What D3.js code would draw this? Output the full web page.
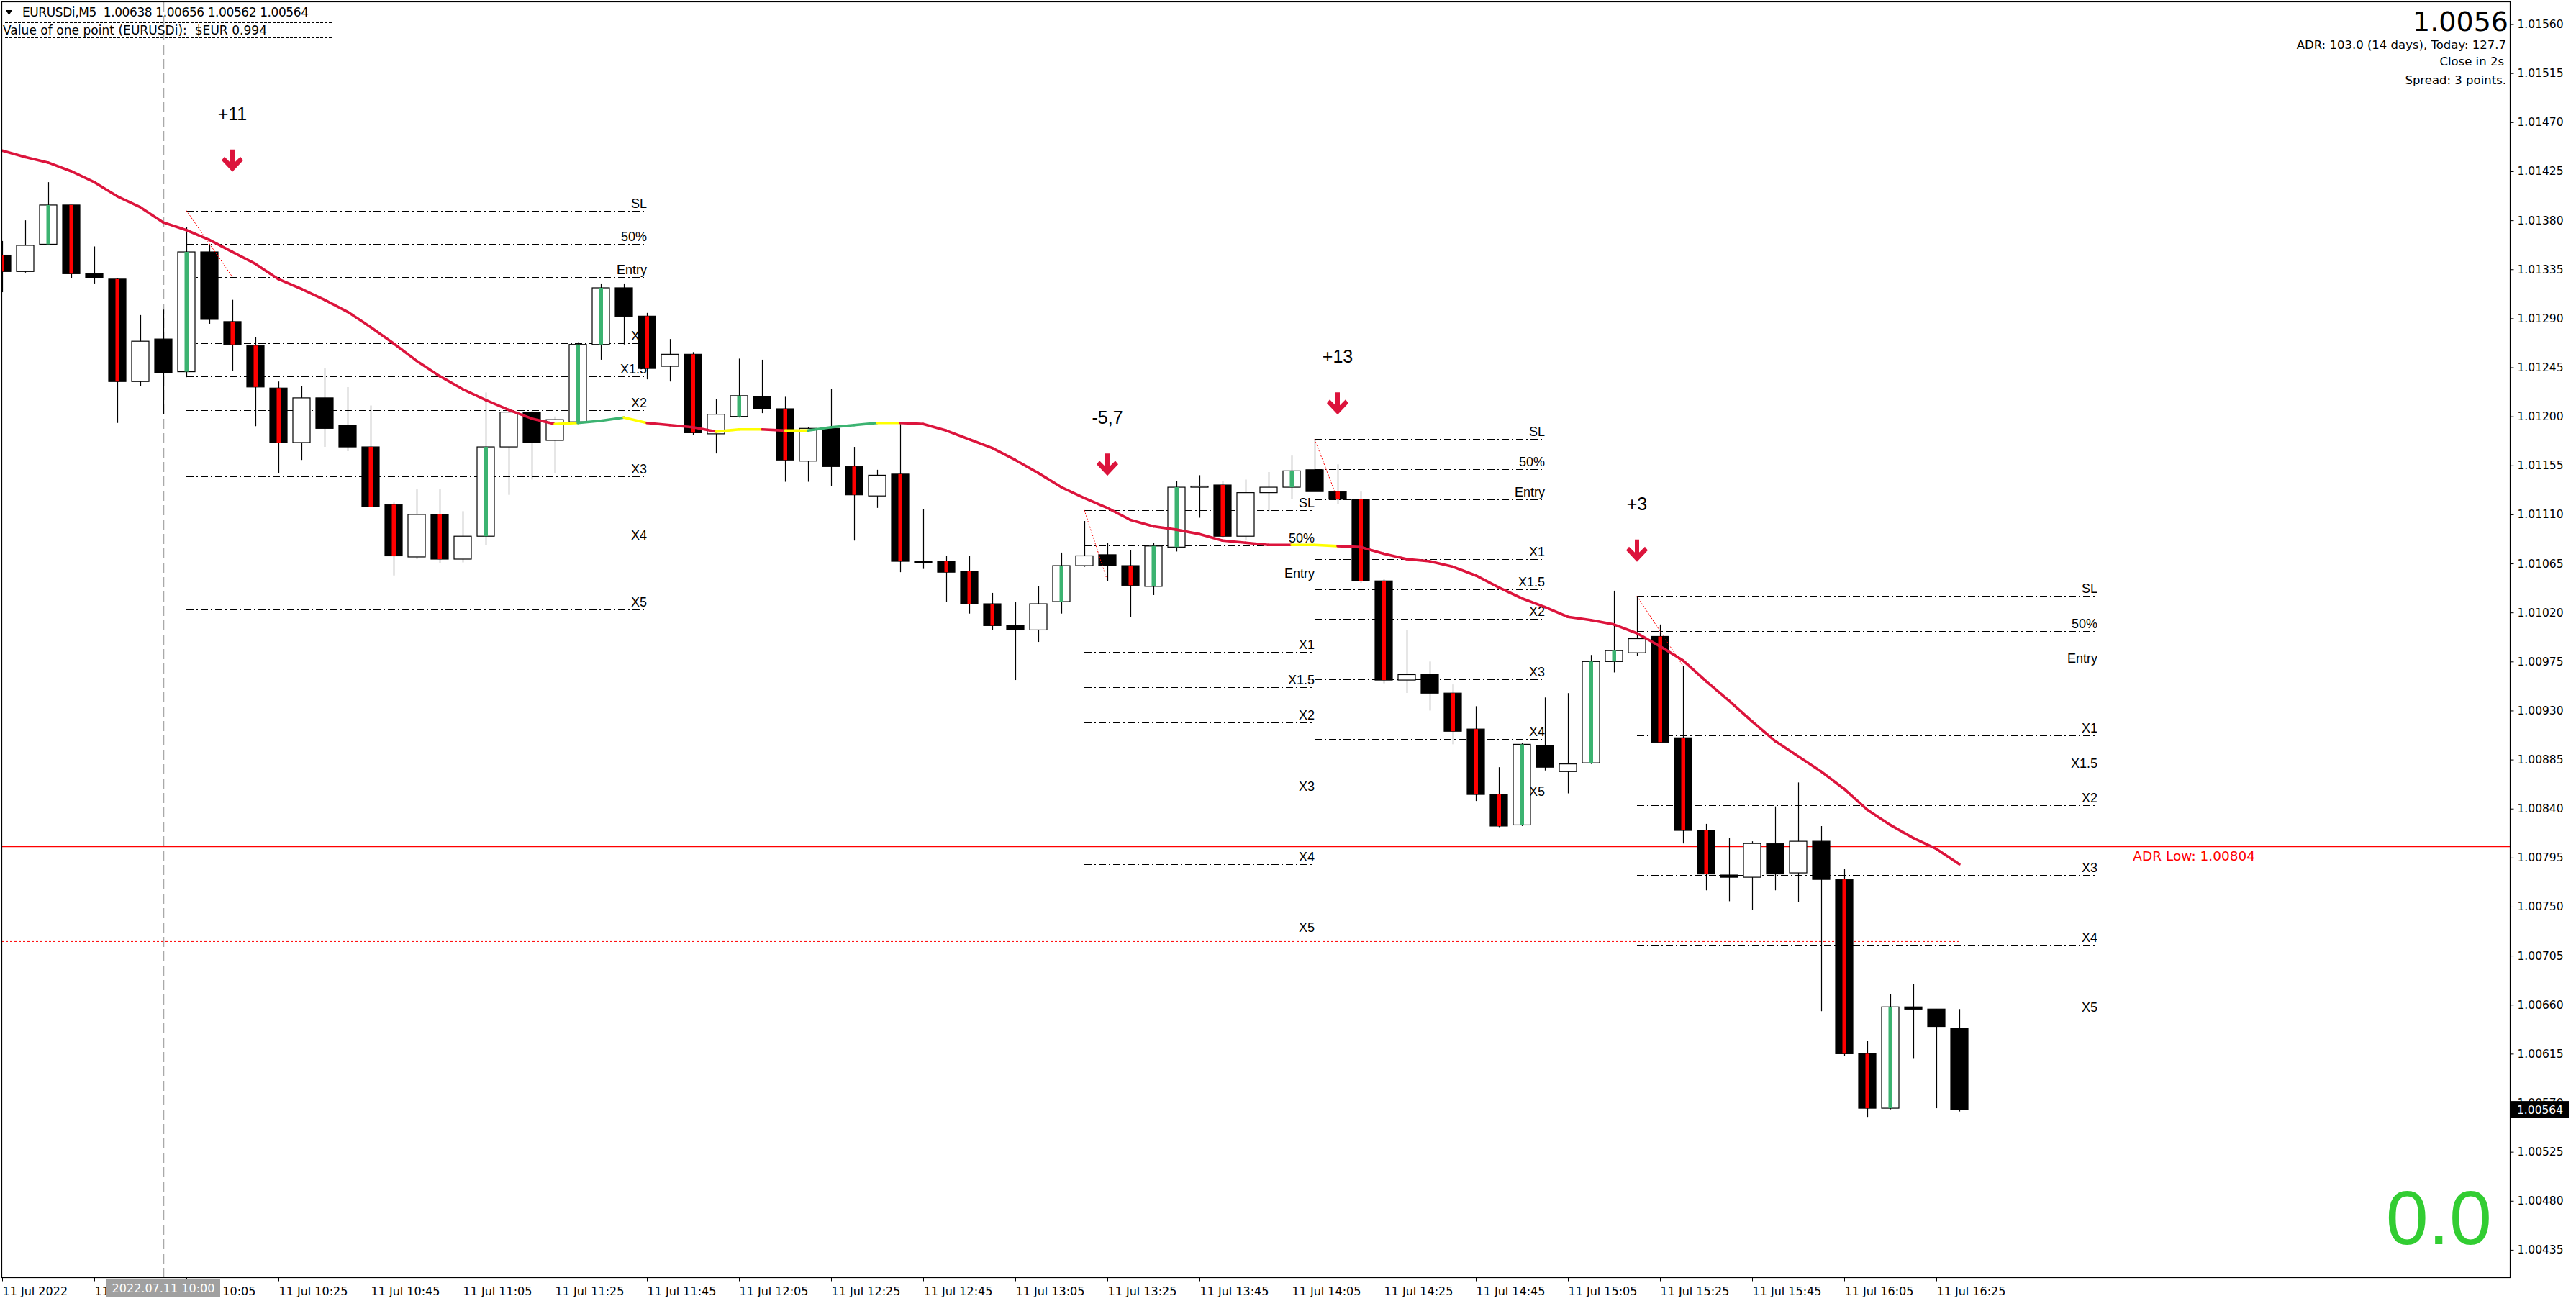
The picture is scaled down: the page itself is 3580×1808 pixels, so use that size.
<!DOCTYPE html>
<html>
<head>
<meta charset="utf-8">
<script src="https://cdn.jsdelivr.net/npm/d3@7"></script>
<style>
  body { margin: 0; background: #fff; }
  svg { display: block; }
  text { white-space: pre; }
</style>
</head>
<body>
<svg id="chart"></svg>
<script>
// EURUSDi M5, 11 Jul 2022 09:25 - 16:30

const W = 3580, H = 1808;
const plotL = 2, plotT = 2, plotR = 3488, plotB = 1775;

const times = ["09:25","09:30","09:35","09:40","09:45","09:50","09:55","10:00","10:05","10:10",
  "10:15","10:20","10:25","10:30","10:35","10:40","10:45","10:50","10:55","11:00",
  "11:05","11:10","11:15","11:20","11:25","11:30","11:35","11:40","11:45","11:50",
  "11:55","12:00","12:05","12:10","12:15","12:20","12:25","12:30","12:35","12:40",
  "12:45","12:50","12:55","13:00","13:05","13:10","13:15","13:20","13:25","13:30",
  "13:35","13:40","13:45","13:50","13:55","14:00","14:05","14:10","14:15","14:20",
  "14:25","14:30","14:35","14:40","14:45","14:50","14:55","15:00","15:05","15:10",
  "15:15","15:20","15:25","15:30","15:35","15:40","15:45","15:50","15:55","16:00",
  "16:05","16:10","16:15","16:20","16:25","16:30"];

const open = [1.01348,1.01333,1.01358,1.01394,1.01331,1.01326,1.01232,1.01271,1.01241,1.01351,
  1.01287,1.01265,1.01226,1.01176,1.01217,1.01192,1.01172,1.01119,1.01071,1.01110,
  1.01069,1.01090,1.01172,1.01204,1.01178,1.01195,1.01266,1.01318,1.01292,1.01246,
  1.01257,1.01184,1.01200,1.01218,1.01207,1.01159,1.01189,1.01154,1.01127,1.01147,
  1.01067,1.01067,1.01058,1.01028,1.01008,1.01004,1.01030,1.01063,1.01073,1.01063,
  1.01044,1.01080,1.01135,1.01137,1.01090,1.01130,1.01135,1.01151,1.01131,1.01124,
  1.01049,1.00958,1.00963,1.00946,1.00913,1.00853,1.00825,1.00898,1.00874,1.00882,
  1.00975,1.00983,1.00998,1.00905,1.00820,1.00779,1.00777,1.00808,1.00781,1.00810,
  1.00775,1.00615,1.00565,1.00658,1.00656,1.00638];

const high = [1.01361,1.01380,1.01415,1.01394,1.01356,1.01327,1.01293,1.01298,1.01374,1.01357,
  1.01307,1.01273,1.01232,1.01228,1.01244,1.01227,1.01210,1.01121,1.01133,1.01133,
  1.01113,1.01222,1.01208,1.01205,1.01200,1.01268,1.01322,1.01322,1.01295,1.01271,
  1.01259,1.01216,1.01253,1.01252,1.01218,1.01190,1.01225,1.01172,1.01151,1.01195,
  1.01115,1.01072,1.01072,1.01038,1.01030,1.01044,1.01075,1.01104,1.01084,1.01077,
  1.01084,1.01141,1.01146,1.01141,1.01142,1.01149,1.01164,1.01179,1.01156,1.01131,
  1.01051,1.01004,1.00975,1.00954,1.00934,1.00878,1.00900,1.00942,1.00946,1.00981,
  1.01040,1.01035,1.01009,1.00971,1.00826,1.00813,1.00810,1.00842,1.00864,1.00824,
  1.00785,1.00627,1.00670,1.00679,1.00656,1.00656];

const low = [1.01314,1.01332,1.01357,1.01327,1.01322,1.01194,1.01228,1.01202,1.01236,1.01285,
  1.01242,1.01191,1.01148,1.01160,1.01172,1.01168,1.01117,1.01054,1.01069,1.01065,
  1.01066,1.01082,1.01128,1.01142,1.01148,1.01193,1.01252,1.01266,1.01234,1.01232,
  1.01183,1.01166,1.01199,1.01203,1.01140,1.01140,1.01136,1.01086,1.01116,1.01057,
  1.01060,1.01030,1.01019,1.01004,1.00958,1.00993,1.01019,1.01062,1.01049,1.01016,
  1.01036,1.01076,1.01107,1.01089,1.01086,1.01113,1.01124,1.01131,1.01119,1.01047,
  1.00955,1.00946,1.00930,1.00899,1.00847,1.00823,1.00824,1.00875,1.00854,1.00881,
  1.00965,1.00980,1.00901,1.00808,1.00765,1.00755,1.00747,1.00765,1.00754,1.00654,
  1.00613,1.00557,1.00564,1.00611,1.00565,1.00562];

const close = [1.01333,1.01357,1.01394,1.01331,1.01327,1.01232,1.01269,1.01240,1.01351,1.01289,
  1.01266,1.01227,1.01176,1.01217,1.01189,1.01172,1.01117,1.01072,1.01110,1.01069,
  1.01090,1.01172,1.01204,1.01176,1.01197,1.01266,1.01318,1.01292,1.01244,1.01257,
  1.01185,1.01202,1.01219,1.01207,1.01160,1.01189,1.01154,1.01128,1.01146,1.01067,
  1.01066,1.01057,1.01028,1.01008,1.01004,1.01028,1.01063,1.01072,1.01063,1.01045,
  1.01081,1.01135,1.01136,1.01090,1.01130,1.01135,1.01150,1.01131,1.01124,1.01049,
  1.00958,1.00963,1.00946,1.00911,1.00853,1.00824,1.00899,1.00878,1.00881,1.00975,
  1.00985,1.00996,1.00901,1.00820,1.00780,1.00777,1.00808,1.00780,1.00810,1.00775,
  1.00615,1.00565,1.00658,1.00656,1.00640,1.00564];

// bar highlight from the momentum indicator: r = red, g = green, - = none
const barMark = ("r-gr-r--g-rrr---rr-r" + "-g---gg-r-r-g-r--r-r" +
  "-rrr--g--rgg-r--g-rr" + "r--rrrg--gg-rrr-----" + "rrg---").split("");

// moving average and its colour state (segment ending at that bar)
const ma = [1.01444,1.01438,1.01433,1.01425,1.01415,1.01402,1.01392,1.01378,1.01371,1.01362,
  1.01351,1.01340,1.01326,1.01317,1.01307,1.01296,1.01282,1.01267,1.01251,1.01237,
  1.01225,1.01215,1.01206,1.01198,1.01193,1.01194,1.01196,1.01199,1.01194,1.01192,
  1.01190,1.01186,1.01188,1.01188,1.01187,1.01187,1.01190,1.01192,1.01194,1.01194,
  1.01193,1.01187,1.01179,1.01171,1.01160,1.01148,1.01135,1.01125,1.01116,1.01105,
  1.01099,1.01096,1.01092,1.01086,1.01084,1.01082,1.01082,1.01082,1.01081,1.01080,
  1.01074,1.01069,1.01067,1.01062,1.01054,1.01043,1.01033,1.01025,1.01016,1.01013,
  1.01009,1.01001,1.00989,1.00976,1.00957,1.00939,1.00920,1.00902,1.00888,1.00874,
  1.00858,1.00839,1.00825,1.00813,1.00803,1.00789];
const maState = ("rrrrrrrrrrrrrrrrrrrrrrrrr" + "y" + "gg" + "y" + "rrr" + "yy" + "r" + "y" +
  "ggg" + "y" + "rrrrrrrrrrrrrrrrr" + "yy" + "rrrrrrrrrrrrrrrrrrrrrrrrrrr").split("");

// trade setups
const setupStart  = ["10:05", "13:20", "14:10", "15:20"];
const setupBars   = [20, 10, 10, 20];
const setupSignal = ["10:15", "13:25", "14:15", "15:20"];
const setupFill   = ["10:15", "13:25", "14:15", "15:30"];
const setupSL     = [1.01389, 1.01114, 1.01179, 1.01035];
const setupEntry  = [1.01328, 1.01049, 1.01124, 1.00971];
const setupArrow  = [1.01445, 1.01166, 1.01222, 1.01087];
const setupResult = ["+11", "-5,7", "+13", "+3"];
const levelNames  = ["SL", "50%", "Entry", "X1", "X1.5", "X2", "X3", "X4", "X5"];
const levelMult   = [-1, -0.5, 0, 1, 1.5, 2, 3, 4, 5];

const adrLow = 1.00804;
const adrProj = 1.00718;
const lastPrice = 1.00564;

const priceTicks = [1.00435,1.00480,1.00525,1.00570,1.00615,1.00660,1.00705,1.00750,1.00795,
  1.00840,1.00885,1.00930,1.00975,1.01020,1.01065,1.01110,1.01155,1.01200,1.01245,1.01290,
  1.01335,1.01380,1.01425,1.01470,1.01515,1.01560];
const timeLabelBars = ["09:25","09:45","10:05","10:25","10:45","11:05","11:25","11:45","12:05",
  "12:25","12:45","13:05","13:25","13:45","14:05","14:25","14:45","15:05","15:25","15:45",
  "16:05","16:25"];

const markColor = { r: "#ff0000", g: "#3cb371" };
const maColor = { r: "#dc143c", y: "#ffff00", g: "#3cb371" };
const sansV = "'DejaVu Sans', Verdana, sans-serif";
const sansT = "'Liberation Sans', Arial, sans-serif";

const svg = d3.select('#chart').attr('width', W).attr('height', H);
svg.append('rect').attr('width', W).attr('height', H).attr('fill', '#fff');

const x = d3.scaleLinear().domain([0, times.length - 1]).range([3, 3 + (times.length - 1) * 32]);
const y = d3.scaleLinear().domain([1.01560, 1.00435]).range([33.6, 1736.9]);
const bi = t => times.indexOf(t);

svg.append('defs').append('clipPath').attr('id', 'plot')
  .append('rect').attr('x', plotL).attr('y', plotT)
  .attr('width', plotR - plotL).attr('height', plotB - plotT);
const g = svg.append('g').attr('clip-path', 'url(#plot)');

//period separator at 10:00
g.append('line')
  .attr('x1', x(bi("10:00")) + 0.5).attr('x2', x(bi("10:00")) + 0.5)
  .attr('y1', plotT).attr('y2', plotB)
  .attr('stroke', '#a9a9a9').attr('stroke-width', 1.5).attr('stroke-dasharray', '14,6');

//setup levels
setupStart.forEach((s, k) => {
  const i0 = bi(s), i1 = i0 + setupBars[k];
  const risk = setupSL[k] - setupEntry[k];
  const lv = levelMult.map((m, j) => ({ name: levelNames[j], p: setupEntry[k] - m * risk }));
  const grp = g.append('g');
  grp.selectAll('line').data(lv).enter().append('line')
    .attr('x1', x(i0)).attr('x2', x(i1))
    .attr('y1', d => Math.round(y(d.p)) + 0.5).attr('y2', d => Math.round(y(d.p)) + 0.5)
    .attr('stroke', '#000').attr('stroke-width', 1).attr('stroke-dasharray', '10,4,2,4');
  grp.selectAll('text').data(lv).enter().append('text')
    .attr('x', x(i1)).attr('y', d => y(d.p) - 4)
    .attr('text-anchor', 'end').attr('font-family', sansT).attr('font-size', 18)
    .attr('fill', '#000').text(d => d.name);
});

//ADR lines
g.append('line').attr('x1', plotL).attr('x2', plotR)
  .attr('y1', y(adrLow) - 2).attr('y2', y(adrLow) - 2)
  .attr('stroke', '#ff0000').attr('stroke-width', 2);
g.append('line').attr('x1', plotL).attr('x2', x(times.length - 1))
  .attr('y1', y(adrProj)).attr('y2', y(adrProj))
  .attr('stroke', '#ff0000').attr('stroke-width', 1).attr('stroke-dasharray', '3,3');
g.append('text').attr('x', 3134).attr('y', y(adrLow) + 18)
  .attr('text-anchor', 'end').attr('font-family', sansV).attr('font-size', 18.5)
  .attr('fill', '#ff0000').text('ADR Low: ' + adrLow.toFixed(5));

//candles
const bars = times.map((t, i) => ({ i, o: open[i], h: high[i], l: low[i], c: close[i], m: barMark[i] }));
const cg = g.append('g');
cg.selectAll('.wick').data(bars).enter().append('line').attr('class', 'wick')
  .attr('x1', d => x(d.i) + 0.5).attr('x2', d => x(d.i) + 0.5)
  .attr('y1', d => y(d.h)).attr('y2', d => y(d.l))
  .attr('stroke', '#000').attr('stroke-width', 1.2);
cg.selectAll('.body').data(bars).enter().append('rect').attr('class', 'body')
  .attr('x', d => x(d.i) - 12).attr('width', 24)
  .attr('y', d => y(Math.max(d.o, d.c)))
  .attr('height', d => Math.max(1, Math.abs(y(d.o) - y(d.c))))
  .attr('fill', d => d.c >= d.o ? '#fff' : '#000')
  .attr('stroke', '#000').attr('stroke-width', 1.2);
cg.selectAll('.mark').data(bars.filter(d => d.m !== '-')).enter().append('rect').attr('class', 'mark')
  .attr('x', d => x(d.i) - 2.5).attr('width', 5.5)
  .attr('y', d => y(Math.max(d.o, d.c)))
  .attr('height', d => Math.max(1, Math.abs(y(d.o) - y(d.c))))
  .attr('fill', d => markColor[d.m]);

//moving average, coloured by state
const segs = ma.slice(1).map((v, k) => ({ a: k, b: k + 1, s: maState[k + 1] }));
g.append('g').selectAll('line').data(segs).enter().append('line')
  .attr('x1', d => x(d.a)).attr('y1', d => y(ma[d.a]))
  .attr('x2', d => x(d.b)).attr('y2', d => y(ma[d.b]))
  .attr('stroke', d => maColor[d.s]).attr('stroke-width', 3.6).attr('stroke-linecap', 'round');

//signal arrows, results and SL->entry dotted lines
const arrowPath = 'M-3,0 H3 V18 L11,10 L15,15 L0,31 L-15,15 L-11,10 L-3,18 Z';
setupStart.forEach((s, k) => {
  g.append('line')
    .attr('x1', x(bi(s))).attr('y1', y(setupSL[k]))
    .attr('x2', x(bi(setupFill[k]))).attr('y2', y(setupEntry[k]))
    .attr('stroke', '#ff0000').attr('stroke-width', 1).attr('stroke-dasharray', '2,2');
  const ax = x(bi(setupSignal[k]));
  g.append('path').attr('d', arrowPath)
    .attr('transform', 'translate(' + ax + ',' + y(setupArrow[k]) + ')')
    .attr('fill', '#dc143c');
  g.append('text').attr('x', ax).attr('y', y(setupArrow[k]) - 41)
    .attr('text-anchor', 'middle').attr('font-family', sansT).attr('font-size', 25)
    .attr('fill', '#000').text(setupResult[k]);
});

//frame
svg.append('rect').attr('x', plotL + 0.5).attr('y', plotT + 0.5)
  .attr('width', plotR - plotL).attr('height', plotB - plotT)
  .attr('fill', 'none').attr('stroke', '#000').attr('stroke-width', 1.2);

//price axis
const yAxis = d3.axisRight(y).tickValues(priceTicks).tickSize(5).tickPadding(5)
  .tickFormat(d3.format('.5f'));
const ya = svg.append('g').attr('transform', 'translate(' + (plotR + 0.5) + ',0)').call(yAxis);
ya.select('.domain').remove();
ya.selectAll('text').attr('font-family', sansV).attr('font-size', 15.5).attr('fill', '#000');

//last price box
svg.append('rect').attr('x', plotR + 2).attr('y', y(lastPrice) - 11.5)
  .attr('width', 80).attr('height', 23).attr('fill', '#000');
svg.append('text').attr('x', plotR + 10).attr('y', y(lastPrice) + 6)
  .attr('font-family', sansV).attr('font-size', 15.5).attr('fill', '#fff')
  .text(lastPrice.toFixed(5));

//time axis
const xAxis = d3.axisBottom(x).tickValues(timeLabelBars.map(bi)).tickSize(5).tickPadding(8)
  .tickFormat(i => i === 0 ? '11 Jul 2022' : '11 Jul ' + times[i]);
const xa = svg.append('g').attr('transform', 'translate(0,' + (plotB + 0.5) + ')').call(xAxis);
xa.select('.domain').remove();
xa.selectAll('text').attr('text-anchor', 'start').attr('x', 0)
  .attr('font-family', sansV).attr('font-size', 16).attr('fill', '#000');

//crosshair time label
const cx = x(bi("10:00"));
svg.append('rect').attr('x', cx - 79).attr('y', 1778).attr('width', 158).attr('height', 24)
  .attr('fill', '#a0a0a0');
svg.append('text').attr('x', cx).attr('y', 1796).attr('text-anchor', 'middle')
  .attr('font-family', sansV).attr('font-size', 16).attr('fill', '#fff')
  .text('2022.07.11 10:00');

//header
svg.append('path').attr('d', 'M8,14 H17 L12.5,21 Z').attr('fill', '#000');
svg.append('text').attr('x', 31).attr('y', 23).attr('font-family', sansV).attr('font-size', 17)
  .attr('textLength', 398).attr('lengthAdjust', 'spacing')
  .attr('fill', '#000').text('EURUSDi,M5  1.00638 1.00656 1.00562 1.00564');
svg.append('text').attr('x', 4).attr('y', 48).attr('font-family', sansV).attr('font-size', 17)
  .attr('textLength', 367).attr('lengthAdjust', 'spacing')
  .attr('fill', '#000').text('Value of one point (EURUSDi):  $EUR 0.994');
[31.5, 52.5].forEach(yy => {
  svg.append('line').attr('x1', 7).attr('x2', 461).attr('y1', yy).attr('y2', yy)
    .attr('stroke', '#000').attr('stroke-width', 1).attr('stroke-dasharray', '4,2');
});

//info panel top right
svg.append('text').attr('x', 3486).attr('y', 43).attr('text-anchor', 'end')
  .attr('font-family', sansV).attr('font-size', 38).attr('fill', '#000').text('1.0056');
const info = ['ADR: 103.0 (14 days), Today: 127.7', 'Close in 2s', 'Spread: 3 points.'];
const infoY = [67.5, 90.5, 117];
const infoX = [3483, 3480, 3483];
info.forEach((t, k) => {
  svg.append('text').attr('x', infoX[k]).attr('y', infoY[k]).attr('text-anchor', 'end')
    .attr('font-family', sansV).attr('font-size', 16.5).attr('fill', '#000').text(t);
});

//profit counter
svg.append('text').attr('x', 3463).attr('y', 1729).attr('text-anchor', 'end')
  .attr('font-family', sansT).attr('font-size', 106).attr('fill', '#32cd32').text('0.0');
</script>
</body>
</html>
